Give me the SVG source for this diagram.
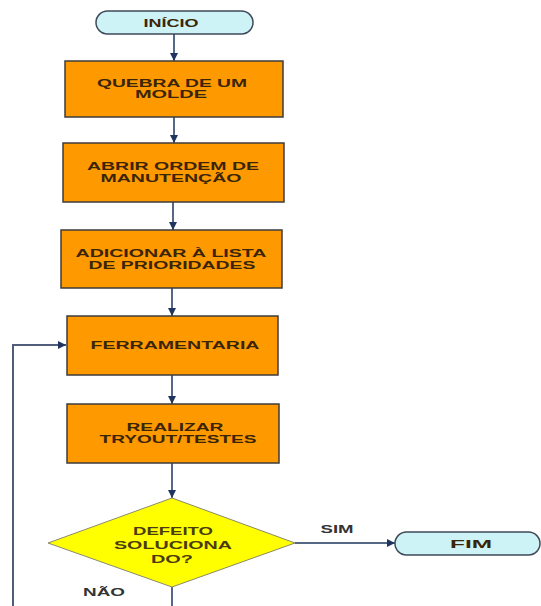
<svg xmlns="http://www.w3.org/2000/svg" width="541" height="606" viewBox="0 0 541 606">
<defs>
<marker id="ah" viewBox="0 0 8 8" refX="8" refY="4" markerWidth="8" markerHeight="8" markerUnits="userSpaceOnUse" orient="auto">
<path d="M0,0 L8,4 L0,8 Z" fill="#1f3560"/>
</marker>
<style>
.box{fill:#ff9900;stroke:#3d3d3d;stroke-width:1.5}
.term{fill:#cdf3f6;stroke:#3f4a5a;stroke-width:1.5}
.dia{fill:#ffff00;stroke:#8a8a6a;stroke-width:1}
.t{font-family:"Liberation Sans",Arial,sans-serif;font-weight:bold;font-size:10.5px;fill:#3a2508}
.d{fill:#4a3c10}
.l{fill:#333333}
.c{fill:none;stroke:#1f3560;stroke-width:1.5}
.fb{fill:none;stroke:#4f5d78;stroke-width:2}
</style>
</defs>
<rect width="541" height="606" fill="#ffffff"/>
<g id="connectors">
<line class="c" x1="174" y1="34" x2="174" y2="61" marker-end="url(#ah)"/>
<line class="c" x1="174" y1="117" x2="174" y2="143" marker-end="url(#ah)"/>
<line class="c" x1="173" y1="202" x2="173" y2="230" marker-end="url(#ah)"/>
<line class="c" x1="172" y1="288" x2="172" y2="316" marker-end="url(#ah)"/>
<line class="c" x1="172" y1="375" x2="172" y2="404" marker-end="url(#ah)"/>
<line class="c" x1="172" y1="463" x2="172" y2="498" marker-end="url(#ah)"/>
<line class="c" x1="295" y1="543" x2="395" y2="543" marker-end="url(#ah)"/>
<line class="c" x1="172" y1="587" x2="172" y2="606"/>
<polyline class="fb" points="13,606 13,345 66,345" marker-end="url(#ah)"/>
</g>
<g id="inicio">
<rect class="term" x="96" y="11" width="157" height="23" rx="11.5"/>
<text class="t" x="171" y="27" text-anchor="middle" textLength="55" lengthAdjust="spacingAndGlyphs">INÍCIO</text>
</g>
<g id="quebra">
<rect class="box" x="65" y="61" width="218" height="56"/>
<text class="t" x="172" y="87" text-anchor="middle" textLength="150" lengthAdjust="spacingAndGlyphs">QUEBRA DE UM</text>
<text class="t" x="171" y="98" text-anchor="middle" textLength="72" lengthAdjust="spacingAndGlyphs">MOLDE</text>
</g>
<g id="abrir">
<rect class="box" x="63" y="143" width="221" height="59"/>
<text class="t" x="173" y="170" text-anchor="middle" textLength="172" lengthAdjust="spacingAndGlyphs">ABRIR ORDEM DE</text>
<text class="t" x="171" y="182" text-anchor="middle" textLength="141" lengthAdjust="spacingAndGlyphs">MANUTENÇÃO</text>
</g>
<g id="adicionar">
<rect class="box" x="61" y="230" width="221" height="58"/>
<text class="t" x="171" y="257" text-anchor="middle" textLength="191" lengthAdjust="spacingAndGlyphs">ADICIONAR À LISTA</text>
<text class="t" x="172" y="269" text-anchor="middle" textLength="167" lengthAdjust="spacingAndGlyphs">DE PRIORIDADES</text>
</g>
<g id="ferramentaria">
<rect class="box" x="67" y="316" width="211" height="59"/>
<text class="t" x="175" y="349" text-anchor="middle" textLength="169" lengthAdjust="spacingAndGlyphs">FERRAMENTARIA</text>
</g>
<g id="realizar">
<rect class="box" x="67" y="404" width="212" height="59"/>
<text class="t" x="175" y="431" text-anchor="middle" textLength="97" lengthAdjust="spacingAndGlyphs">REALIZAR</text>
<text class="t" x="178" y="443" text-anchor="middle" textLength="157" lengthAdjust="spacingAndGlyphs">TRYOUT/TESTES</text>
</g>
<g id="decisao">
<polygon class="dia" points="172,498 295,543 172,587 48,543"/>
<text class="t d" x="173" y="535" text-anchor="middle" textLength="80" lengthAdjust="spacingAndGlyphs">DEFEITO</text>
<text class="t d" x="173" y="549" text-anchor="middle" textLength="118" lengthAdjust="spacingAndGlyphs">SOLUCIONA</text>
<text class="t d" x="172" y="563" text-anchor="middle" textLength="42" lengthAdjust="spacingAndGlyphs">DO?</text>
</g>
<g id="fim">
<rect class="term" x="395" y="532" width="145" height="23" rx="11.5"/>
<text class="t" x="471" y="548" text-anchor="middle" textLength="42" lengthAdjust="spacingAndGlyphs">FIM</text>
</g>
<g id="labels">
<text class="t l" x="337" y="533" text-anchor="middle" textLength="33" lengthAdjust="spacingAndGlyphs">SIM</text>
<text class="t l" x="104" y="596" text-anchor="middle" textLength="42" lengthAdjust="spacingAndGlyphs">NÃO</text>
</g>
</svg>
